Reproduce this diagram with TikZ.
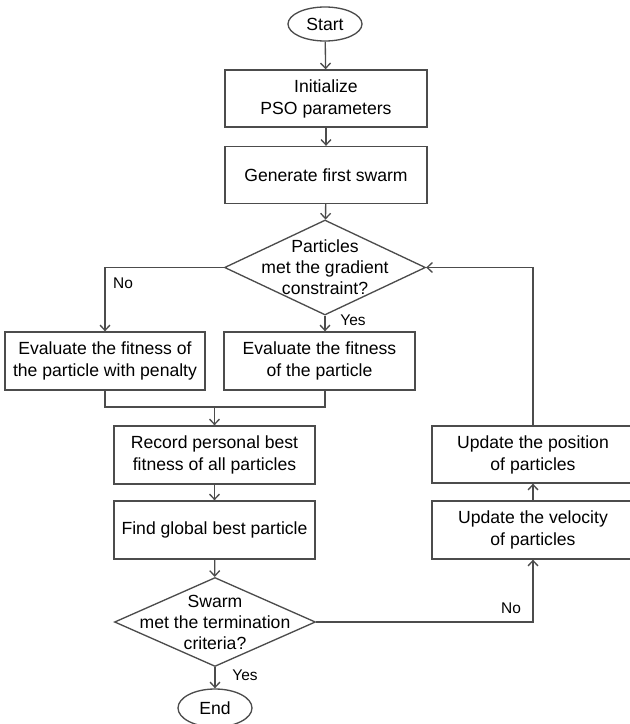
\documentclass[tikz,border=0pt]{standalone}
\usepackage{fontspec}
\setmainfont{Liberation Sans}
\usetikzlibrary{shapes.geometric,arrows.meta}
\begin{document}
\begin{tikzpicture}[x=0.75pt,y=-0.75pt,
	box/.style={draw=black!70,line width=1pt,rectangle,align=center,inner sep=0pt,minimum height=42.75pt,font=\fontsize{13.2}{16.5}\selectfont},
	term/.style={draw=black!70,line width=1pt,ellipse,inner sep=0pt,font=\fontsize{13.2}{16.5}\selectfont},
	decision/.style={draw=black!70,line width=1pt,diamond,inner sep=0pt,minimum width=150.75pt},
	qtext/.style={align=center,inner sep=0pt,font=\fontsize{13.2}{15.75}\selectfont},
	conn/.style={draw=black!70,line width=1pt,-{Straight Barb[length=4pt,width=7.5pt]}},
	link/.style={draw=black!70,line width=1pt},
	lbl/.style={font=\fontsize{11.6}{14}\selectfont}]
				\useasboundingbox (0,0) rectangle (629,724);
				\node[term,minimum width=55.5pt,minimum height=25.5pt] (start) at (325,24) {Start};
				\node[box,minimum width=151.5pt] (init) at (326,98.5) {Initialize\\PSO parameters};
				\node[box,minimum width=151.5pt] (gen) at (326,175) {Generate first swarm};
				\node[decision,minimum height=71.25pt,label={[qtext]center:Particles\\met the gradient\\constraint?}] (chk) at (325,267.5) {};
				\node[box,minimum width=150pt,minimum height=43.5pt] (evalpen) at (105,361) {Evaluate the fitness of\\the particle with penalty};
				\node[box,minimum width=143.25pt,minimum height=43.5pt] (eval) at (319.5,361) {Evaluate the fitness\\of the particle};
				\node[box,minimum width=150.75pt,minimum height=43.5pt] (record) at (214.5,455) {Record personal best\\fitness of all particles};
				\node[box,minimum width=150.75pt,minimum height=43.5pt] (find) at (214.5,530) {Find global best particle};
				\node[decision,minimum height=66.75pt,label={[qtext]center:Swarm\\met the termination\\criteria?}] (stop) at (215,622) {};
				\node[term,minimum width=55.5pt,minimum height=28.5pt] (end) at (215,708) {End};
				\node[box,minimum width=151.5pt] (upos) at (533,454.5) {Update the position\\of particles};
				\node[box,minimum width=151.5pt,minimum height=43.5pt] (uvel) at (533,530) {Update the velocity\\of particles};
				\coordinate (merge) at (214.5,407);
				\draw[conn] (start) -- (init);
				\draw[conn] (init) -- (gen);
				\draw[conn] (gen) -- (chk);
				\draw[conn] (chk.west) -| (evalpen.north);
				\draw[conn] (chk.south) -- (chk.south |- eval.north);
				\draw[link] (evalpen.south) |- (merge) -| (chk.south |- eval.south);
				\draw[conn] (merge) -- (record);
				\draw[conn] (record) -- (find);
				\draw[conn] (find) -- (stop);
				\draw[conn] (stop) -- (end);
				\draw[conn] (stop.east) -| (uvel.south);
				\draw[conn] (uvel) -- (upos);
				\draw[conn] (upos.north) |- (chk.east);
				\node[lbl] (no1) at (123,283) {No};
				\node[lbl] (yes1) at (353,320) {Yes};
				\node[lbl] (no2) at (511,608) {No};
				\node[lbl] (yes2) at (245,675) {Yes};
			\end{tikzpicture}
\end{document}
